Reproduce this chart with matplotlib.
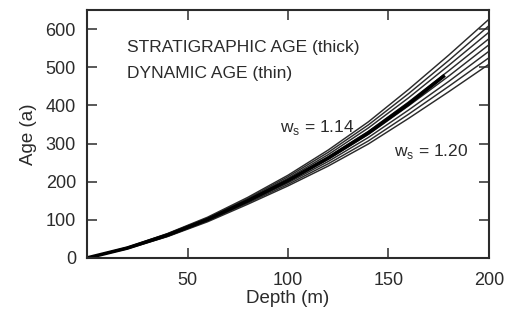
import matplotlib
matplotlib.use("Agg")
import matplotlib.pyplot as plt

# depth sampling (m)
depth = [0, 20, 40, 60, 80, 100, 120, 140, 160, 180, 200]

# dynamic ages (thin lines), top (w_s = 1.14) to bottom (w_s = 1.20)
dyn_1 = [0, 28, 64, 107, 159, 217, 283, 357, 442, 532, 626]
dyn_2 = [0, 27, 63, 105, 156, 213, 277, 349, 431, 518, 609]
dyn_3 = [0, 27, 62, 104, 154, 209, 271, 341, 420, 505, 592]
dyn_4 = [0, 26, 61, 102, 151, 205, 265, 332, 409, 491, 575]
dyn_5 = [0, 26, 59, 100, 149, 201, 259, 324, 399, 477, 559]
dyn_6 = [0, 25, 58, 98, 146, 197, 253, 316, 388, 463, 542]
dyn_7 = [0, 25, 57, 97, 144, 193, 247, 307, 377, 450, 525]
dyn_8 = [0, 24, 56, 95, 141, 189, 241, 299, 366, 436, 508]

# stratigraphic age (thick line)
strat_depth = [0, 20, 40, 60, 80, 100, 120, 140, 160, 178]
strat_age = [0, 26, 60, 101, 150, 203, 262, 328, 404, 479]

x_ticks = [50, 100, 150, 200]
y_ticks = [0, 100, 200, 300, 400, 500, 600]

INK = "#2b2b2b"
plt.rcParams["font.family"] = ["Liberation Sans", "DejaVu Sans"]

fig = plt.figure(figsize=(5.12, 3.15), dpi=100)
ax = fig.add_axes([0.170, 0.181, 0.785, 0.787])

for ages in [dyn_1, dyn_2, dyn_3, dyn_4, dyn_5, dyn_6, dyn_7, dyn_8]:
    ax.plot(depth, ages, color=INK, lw=1.05)
ax.plot(strat_depth, strat_age, color="black", lw=2.6, solid_capstyle="butt")

ax.set_xlim(0, 200)
ax.set_ylim(0, 650)
ax.set_xticks(x_ticks)
ax.set_yticks(y_ticks)
ax.tick_params(direction="in", length=7, width=1.1, color=INK, labelcolor=INK,
               labelsize=13, top=True, right=True)
ax.tick_params(axis="x", pad=10)
ax.tick_params(axis="y", pad=8)
for s in ax.spines.values():
    s.set_color(INK)
    s.set_linewidth(1.5)

ax.set_xlabel("Depth (m)", fontsize=13.5, color=INK, labelpad=1)
ax.set_ylabel("Age (a)", fontsize=13.5, color=INK, labelpad=6)

ax.text(20, 553, "STRATIGRAPHIC AGE (thick)", fontsize=12.5, color=INK, va="center")
ax.text(20, 484, "DYNAMIC AGE (thin)", fontsize=12.5, color=INK, va="center")
ax.text(96, 341, r"w$_\mathregular{s}$ = 1.14", fontsize=12.5, color=INK, va="center")
ax.text(152.5, 278, r"w$_\mathregular{s}$ = 1.20", fontsize=12.5, color=INK, va="center")

fig.savefig("out.png", dpi=100)
